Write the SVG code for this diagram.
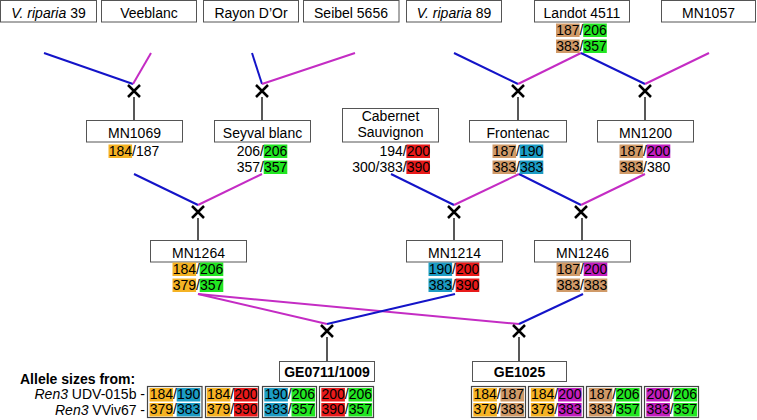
<svg xmlns="http://www.w3.org/2000/svg" width="757" height="420" viewBox="0 0 757 420">
<defs>
<style>
text{font-family:"Liberation Sans",Arial,sans-serif;font-size:14px;fill:#000}
.c{text-anchor:middle}
.e{text-anchor:end}
.b{font-weight:bold}
.i{font-style:italic}
.box{fill:#fff;stroke:#555;stroke-width:1}
.bbox{fill:#fff;stroke:#444;stroke-width:1.2}
.lb{stroke:#1414C8;stroke-width:2;fill:none}
.lm{stroke:#C42CC4;stroke-width:2;fill:none}
.x{stroke:#000;stroke-width:2.5;fill:none}
.v{stroke:#222;stroke-width:1.5}
.o{fill:#F5B324}.t{fill:#D09A68}.g{fill:#22E622}.k{fill:#1C9CC4}.r{fill:#E81A1A}.m{fill:#C21EBE}
</style>
</defs>
<rect width="757" height="420" fill="#fff"/>

<g id="connectors">
<path class="lb" d="M44,53 L133,84"/><path class="lm" d="M151,53 L133,84"/>
<path class="lb" d="M252,53 L262,84"/><path class="lm" d="M355,53 L262,84"/>
<path class="lb" d="M454,53 L518,84"/><path class="lm" d="M518,84 L581,53"/>
<path class="lb" d="M581,53 L645,84"/><path class="lm" d="M645,84 L709,53"/>
<path class="lb" d="M134,174 L198,205"/><path class="lm" d="M198,205 L262,174"/>
<path class="lb" d="M391,174 L454,205"/><path class="lm" d="M454,205 L519,174"/>
<path class="lb" d="M519,174 L581,205"/><path class="lm" d="M581,205 L645,174"/>
<path class="lm" d="M198,294 L327,324"/><path class="lm" d="M198,294 L519,324"/>
<path class="lb" d="M455,294 L327,324"/><path class="lb" d="M583,294 L519,324"/>
<g class="x">
<path d="M128,85 L140,97 M140,85 L128,97"/>
<path d="M256,85 L268,97 M268,85 L256,97"/>
<path d="M512,85 L524,97 M524,85 L512,97"/>
<path d="M639,85 L651,97 M651,85 L639,97"/>
<path d="M192,206 L204,218 M204,206 L192,218"/>
<path d="M448,206 L460,218 M460,206 L448,218"/>
<path d="M575,206 L587,218 M587,206 L575,218"/>
<path d="M321,325 L333,337 M333,325 L321,337"/>
<path d="M513,325 L525,337 M525,325 L513,337"/>
</g>
<g class="v">
<path d="M134,97 V120 M262,97 V120 M518,97 V120 M645,97 V120"/>
<path d="M198,218 V240 M454,218 V240 M582,218 V240"/>
<path d="M327,337 V361 M519,337 V361"/>
</g>
</g>

<g id="vr39"><rect class="box" x="0.5" y="0.5" width="96" height="21.5"/><text x="48.5" y="18" class="c"><tspan class="i">V. riparia</tspan> 39</text></g>
<g id="veeblanc"><rect class="box" x="101.5" y="0.5" width="95" height="21.5"/><text x="149" y="18" class="c">Veeblanc</text></g>
<g id="rayon"><rect class="box" x="203.5" y="0.5" width="95" height="21.5"/><text x="251" y="18" class="c">Rayon D’Or</text></g>
<g id="seibel"><rect class="box" x="303.5" y="0.5" width="95.5" height="21.5"/><text x="351" y="18" class="c">Seibel 5656</text></g>
<g id="vr89"><rect class="box" x="406.5" y="0.5" width="95" height="21.5"/><text x="454" y="18" class="c"><tspan class="i">V. riparia</tspan> 89</text></g>
<g id="landot"><rect class="box" x="534.5" y="0.5" width="95" height="21.5"/><text x="582" y="18" class="c">Landot 4511</text>
<rect class="t" x="556" y="23.5" width="23.6" height="13.5"/><rect class="g" x="583.2" y="23.5" width="23.6" height="13.5"/>
<rect class="t" x="556" y="39.5" width="23.6" height="13.5"/><rect class="g" x="583.2" y="39.5" width="23.6" height="13.5"/>
<text x="556.2" y="35">187/206</text><text x="556.2" y="51">383/357</text></g>
<g id="mn1057"><rect class="box" x="661.5" y="0.5" width="94" height="21.5"/><text x="708.5" y="18" class="c">MN1057</text></g>

<g id="mn1069"><rect class="box" x="86.5" y="120.5" width="96" height="21.5"/><text x="134.5" y="138" class="c">MN1069</text>
<rect class="o" x="108.5" y="144.5" width="23.6" height="13.5"/><text x="108.7" y="156">184/187</text></g>
<g id="seyval"><rect class="box" x="214.5" y="120.5" width="96" height="21.5"/><text x="262.5" y="138" class="c">Seyval blanc</text>
<rect class="g" x="263.7" y="144.5" width="23.6" height="13.5"/><rect class="g" x="263.7" y="160.5" width="23.6" height="13.5"/>
<text x="236.7" y="156">206/206</text><text x="236.7" y="172">357/357</text></g>
<g id="cabernet"><rect class="box" x="342.5" y="108.5" width="96" height="33.5"/><text x="390.5" y="121" class="c">Cabernet</text><text x="390.5" y="137" class="c">Sauvignon</text>
<rect class="r" x="406.4" y="144.5" width="23.6" height="13.5"/><rect class="r" x="406.4" y="160.5" width="23.6" height="13.5"/>
<text x="430" y="156" class="e">194/200</text><text x="430" y="172" class="e">300/383/390</text></g>
<g id="frontenac"><rect class="box" x="469.5" y="120.5" width="97" height="21.5"/><text x="518" y="138" class="c">Frontenac</text>
<rect class="t" x="492.5" y="144.5" width="23.6" height="13.5"/><rect class="k" x="519.7" y="144.5" width="23.6" height="13.5"/>
<rect class="t" x="492.5" y="160.5" width="23.6" height="13.5"/><rect class="k" x="519.7" y="160.5" width="23.6" height="13.5"/>
<text x="492.7" y="156">187/190</text><text x="492.7" y="172">383/383</text></g>
<g id="mn1200"><rect class="box" x="597.5" y="120.5" width="96" height="21.5"/><text x="645.5" y="138" class="c">MN1200</text>
<rect class="t" x="619.5" y="144.5" width="23.6" height="13.5"/><rect class="m" x="646.7" y="144.5" width="23.6" height="13.5"/>
<rect class="t" x="619.5" y="160.5" width="23.6" height="13.5"/>
<text x="619.7" y="156">187/200</text><text x="619.7" y="172">383/380</text></g>

<g id="mn1264"><rect class="box" x="150.5" y="240.5" width="96" height="21.5"/><text x="198.5" y="258" class="c">MN1264</text>
<rect class="o" x="172.5" y="262.5" width="23.6" height="13.5"/><rect class="g" x="199.7" y="262.5" width="23.6" height="13.5"/>
<rect class="o" x="172.5" y="278.5" width="23.6" height="13.5"/><rect class="g" x="199.7" y="278.5" width="23.6" height="13.5"/>
<text x="172.7" y="274">184/206</text><text x="172.7" y="290">379/357</text></g>
<g id="mn1214"><rect class="box" x="406.5" y="240.5" width="96" height="21.5"/><text x="454.5" y="258" class="c">MN1214</text>
<rect class="k" x="428.5" y="262.5" width="23.6" height="13.5"/><rect class="r" x="455.7" y="262.5" width="23.6" height="13.5"/>
<rect class="k" x="428.5" y="278.5" width="23.6" height="13.5"/><rect class="r" x="455.7" y="278.5" width="23.6" height="13.5"/>
<text x="428.7" y="274">190/200</text><text x="428.7" y="290">383/390</text></g>
<g id="mn1246"><rect class="box" x="534.5" y="240.5" width="96" height="21.5"/><text x="582.5" y="258" class="c">MN1246</text>
<rect class="t" x="556.5" y="262.5" width="23.6" height="13.5"/><rect class="m" x="583.7" y="262.5" width="23.6" height="13.5"/>
<rect class="t" x="556.5" y="278.5" width="23.6" height="13.5"/><rect class="t" x="583.7" y="278.5" width="23.6" height="13.5"/>
<text x="556.7" y="274">187/200</text><text x="556.7" y="290">383/383</text></g>

<g id="ge0711"><rect class="box" x="279.5" y="361.5" width="95" height="20"/><text x="327" y="377" class="c b">GE0711/1009</text></g>
<g id="ge1025"><rect class="box" x="472.5" y="361.5" width="94" height="20"/><text x="519.5" y="377" class="c b">GE1025</text></g>

<g id="legend">
<text x="20" y="384" class="b">Allele sizes from:</text>
<text x="145" y="399" class="e"><tspan class="i">Ren3</tspan> UDV-015b -</text>
<text x="145" y="415" class="e"><tspan class="i">Ren3</tspan> VViv67 -</text>
</g>

<g id="ge0711-alleles">
<rect class="bbox" x="147.5" y="386.5" width="54.5" height="31"/>
<rect class="o" x="149.5" y="388" width="23.6" height="13.5"/><rect class="k" x="176.7" y="388" width="23.6" height="13.5"/>
<rect class="o" x="149.5" y="403" width="23.6" height="13.5"/><rect class="k" x="176.7" y="403" width="23.6" height="13.5"/>
<text x="149.7" y="399">184/190</text><text x="149.7" y="414">379/383</text>
<rect class="bbox" x="205.5" y="386.5" width="53" height="31"/>
<rect class="o" x="206.8" y="388" width="23.6" height="13.5"/><rect class="r" x="234" y="388" width="23.6" height="13.5"/>
<rect class="o" x="206.8" y="403" width="23.6" height="13.5"/><rect class="r" x="234" y="403" width="23.6" height="13.5"/>
<text x="207" y="399">184/200</text><text x="207" y="414">379/390</text>
<rect class="bbox" x="262.5" y="386.5" width="54" height="31"/>
<rect class="k" x="264.3" y="388" width="23.6" height="13.5"/><rect class="g" x="291.5" y="388" width="23.6" height="13.5"/>
<rect class="k" x="264.3" y="403" width="23.6" height="13.5"/><rect class="g" x="291.5" y="403" width="23.6" height="13.5"/>
<text x="264.5" y="399">190/206</text><text x="264.5" y="414">383/357</text>
<rect class="bbox" x="319.5" y="386.5" width="54" height="31"/>
<rect class="r" x="321.3" y="388" width="23.6" height="13.5"/><rect class="g" x="348.5" y="388" width="23.6" height="13.5"/>
<rect class="r" x="321.3" y="403" width="23.6" height="13.5"/><rect class="g" x="348.5" y="403" width="23.6" height="13.5"/>
<text x="321.5" y="399">200/206</text><text x="321.5" y="414">390/357</text>
</g>

<g id="ge1025-alleles">
<rect class="bbox" x="471.5" y="386.5" width="54" height="31"/>
<rect class="o" x="473.3" y="388" width="23.6" height="13.5"/><rect class="t" x="500.5" y="388" width="23.6" height="13.5"/>
<rect class="o" x="473.3" y="403" width="23.6" height="13.5"/><rect class="t" x="500.5" y="403" width="23.6" height="13.5"/>
<text x="473.5" y="399">184/187</text><text x="473.5" y="414">379/383</text>
<rect class="bbox" x="528.5" y="386.5" width="55" height="31"/>
<rect class="o" x="530.8" y="388" width="23.6" height="13.5"/><rect class="m" x="558" y="388" width="23.6" height="13.5"/>
<rect class="o" x="530.8" y="403" width="23.6" height="13.5"/><rect class="m" x="558" y="403" width="23.6" height="13.5"/>
<text x="531" y="399">184/200</text><text x="531" y="414">379/383</text>
<rect class="bbox" x="586.5" y="386.5" width="55" height="31"/>
<rect class="t" x="588.8" y="388" width="23.6" height="13.5"/><rect class="g" x="616" y="388" width="23.6" height="13.5"/>
<rect class="t" x="588.8" y="403" width="23.6" height="13.5"/><rect class="g" x="616" y="403" width="23.6" height="13.5"/>
<text x="589" y="399">187/206</text><text x="589" y="414">383/357</text>
<rect class="bbox" x="644.5" y="386.5" width="54" height="31"/>
<rect class="m" x="646.3" y="388" width="23.6" height="13.5"/><rect class="g" x="673.5" y="388" width="23.6" height="13.5"/>
<rect class="m" x="646.3" y="403" width="23.6" height="13.5"/><rect class="g" x="673.5" y="403" width="23.6" height="13.5"/>
<text x="646.5" y="399">200/206</text><text x="646.5" y="414">383/357</text>
</g>
</svg>
